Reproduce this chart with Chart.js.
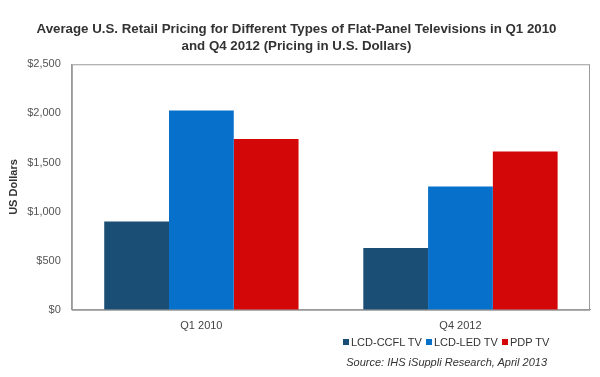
<!DOCTYPE html>
<html>
<head>
<meta charset="utf-8">
<script src="https://cdn.jsdelivr.net/npm/chart.js@4/dist/chart.umd.min.js"></script>
<style>
  body { margin: 0; background: #fff; }
  #wrap { position: relative; width: 600px; height: 377px; }
  #legend { position: absolute; left: 343px; top: 336px; font: 11px Arial, "Liberation Sans", sans-serif; color: #333; white-space: nowrap; }
  #legend span.sw { display: inline-block; width: 6px; height: 6px; margin: 0 2px 1px 0; }
  #legend span.it { margin-right: 4px; }
  #source { position: absolute; right: 53px; top: 356px; font: italic 11px Arial, "Liberation Sans", sans-serif; color: #333; }
</style>
</head>
<body>
<div id="wrap">
  <canvas id="myBarChart" width="600" height="377"></canvas>
  <div id="legend"></div>
  <div id="source">Source: IHS iSuppli Research, April 2013</div>
</div>
<script>
// Start Data
const categories = ["Q1 2010", "Q4 2012"];
const seriesNames = ["LCD-CCFL TV", "LCD-LED TV", "PDP TV"];
const ccflValues = [900, 630];
const ledValues = [2030, 1255];
const pdpValues = [1740, 1612];
const seriesColors = ["#1b4e74", "#0770cb", "#d30707"];
// End Data

// plot frame (gray box round the chart area)
const frameBox = {
  id: "frameBox",
  afterDraw(chart) {
    const { ctx, chartArea } = chart;
    ctx.save();
    ctx.strokeStyle = "#9a9a9a";
    ctx.lineWidth = 1;
    ctx.strokeRect(chartArea.left + 0.5, chartArea.top + 0.5, chartArea.width - 1, chartArea.height);
    ctx.restore();
  },
};

const bar_ctx = document.getElementById("myBarChart");

const barData = {
  labels: categories,
  datasets: [
    { label: seriesNames[0], data: ccflValues, backgroundColor: seriesColors[0] },
    { label: seriesNames[1], data: ledValues, backgroundColor: seriesColors[1] },
    { label: seriesNames[2], data: pdpValues, backgroundColor: seriesColors[2] },
  ],
};

const barChart = new Chart(bar_ctx, {
  type: "bar",
  data: barData,
  plugins: [frameBox],
  options: {
    responsive: false,
    animation: false,
    layout: { padding: { left: 3, right: 10, bottom: 42 } },
    datasets: {
      bar: { categoryPercentage: 0.75, barPercentage: 1.0 },
    },
    scales: {
      x: {
        grid: { display: false },
        border: { color: "#9a9a9a" },
        ticks: { color: "#444", font: { family: "Arial", size: 11 }, padding: 2 },
      },
      y: {
        min: 0,
        max: 2500,
        grid: { display: false },
        border: { color: "#9a9a9a" },
        ticks: {
          stepSize: 500,
          color: "#555",
          font: { family: "Arial", size: 11 },
          padding: 3,
          callback: (v) => "$" + v.toLocaleString("en-US"),
        },
        title: {
          display: true,
          text: "US Dollars",
          color: "#333",
          font: { family: "Arial", size: 11, weight: "bold" },
          padding: { top: 4, bottom: 4 },
        },
      },
    },
    plugins: {
      legend: { display: false },
      tooltip: { enabled: false },
      title: {
        display: true,
        text: [
          "Average U.S. Retail Pricing for Different Types of Flat-Panel Televisions in Q1 2010",
          "and Q4 2012 (Pricing in U.S. Dollars)",
        ],
        color: "#333",
        font: { family: "Arial", size: 13.3, weight: "bold", lineHeight: 1.25 },
        padding: { top: 21, bottom: 10 },
      },
    },
  },
});

// legend row built from the same arrays
const legendEl = document.getElementById("legend");
seriesNames.forEach((name, i) => {
  const item = document.createElement("span");
  item.className = "it";
  item.innerHTML = '<span class="sw" style="background:' + seriesColors[i] + '"></span>' + name;
  legendEl.appendChild(item);
});
</script>
</body>
</html>
